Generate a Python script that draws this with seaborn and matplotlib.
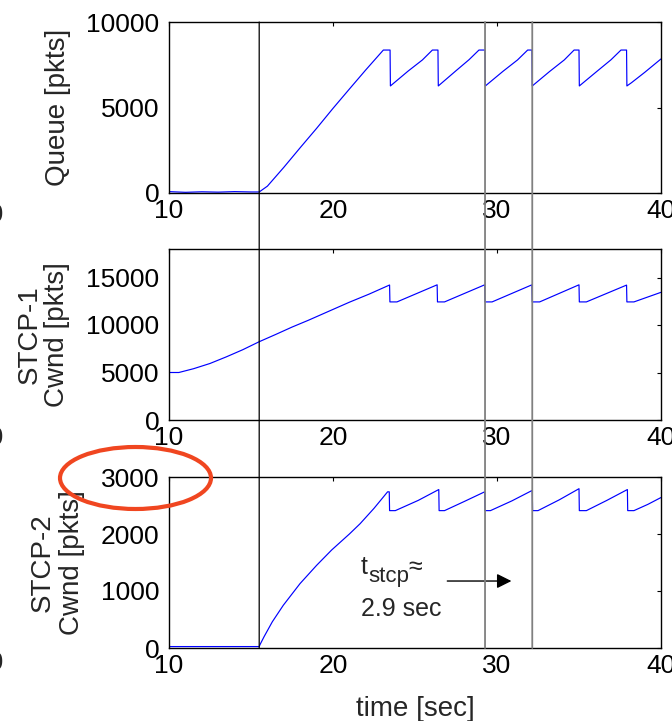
import numpy as np
import pandas as pd
import matplotlib
matplotlib.use("Agg")
import matplotlib.pyplot as plt
import seaborn as sns
from matplotlib.patches import ConnectionPatch, Ellipse

# ---------------- data ----------------
queue_t = [10, 11, 12, 13, 14, 15, 15.5, 16, 17, 18, 19, 20, 21, 22, 23.07, 23.48,
           23.5, 24.58, 25.45, 26.06, 26.4,
           26.42, 27.5, 28.3, 28.9, 29.27,
           29.29, 30.37, 31.25, 31.87, 32.13,
           32.15, 33.2, 34.1, 34.7, 35.0,
           35.02, 36.1, 36.95, 37.56, 37.9,
           37.92, 38.2, 39.0, 40.0]
queue_v = [80, 40, 70, 50, 80, 60, 60, 400, 1500, 2650, 3780, 4950, 6080, 7200, 8360, 8360,
           6260, 7130, 7780, 8360, 8360,
           6260, 7150, 7800, 8360, 8360,
           6260, 7120, 7780, 8360, 8360,
           6260, 7100, 7780, 8360, 8360,
           6260, 7120, 7790, 8360, 8360,
           6260, 6450, 7050, 7840]

stcp1_t = [10, 10.6, 11.5, 12.5, 13.5, 14.5, 15.5, 16.5, 17.5, 18.5, 19.92, 21.0, 22.2, 23.45,
           23.47, 23.9, 26.35,
           26.37, 26.8, 29.25,
           29.27, 29.7, 32.13,
           32.15, 32.6, 35.0,
           35.02, 35.45, 37.9,
           37.92, 38.35, 40.0]
stcp1_v = [5000, 5000, 5400, 5950, 6650, 7400, 8240, 9000, 9780, 10500, 11580, 12400, 13250, 14210,
           12430, 12430, 14230,
           12430, 12430, 14230,
           12430, 12430, 14230,
           12430, 12430, 14230,
           12430, 12430, 14200,
           12430, 12430, 13440]

stcp2_t = [10, 15.5, 15.55, 15.8, 16.3, 16.97, 17.99, 19.0, 19.92, 21.0, 21.65, 22.5, 23.33, 23.43,
           23.45, 23.8, 25.2, 26.45,
           26.47, 26.8, 28.0, 29.25,
           29.27, 29.6, 30.9, 32.15,
           32.17, 32.5, 33.8, 35.0,
           35.02, 35.45, 36.7, 37.95,
           37.97, 38.35, 39.2, 40.0]
stcp2_v = [25, 25, 60, 200, 460, 750, 1130, 1450, 1720, 2000, 2180, 2450, 2740, 2740,
           2410, 2410, 2590, 2780,
           2410, 2410, 2570, 2740,
           2410, 2410, 2580, 2765,
           2410, 2410, 2600, 2795,
           2410, 2410, 2590, 2780,
           2410, 2410, 2520, 2640]

vline_times = [15.5, 29.27, 32.15]
vline_colors = ["#000000", "#808080", "#808080"]

xticks = [10, 20, 30, 40]
yticks_queue = [0, 5000, 10000]
yticks_stcp1 = [0, 5000, 10000, 15000]
yticks_stcp2 = [0, 1000, 2000, 3000]

ylabels = ["Queue [pkts]", "STCP-1\nCwnd [pkts]", "STCP-2\nCwnd [pkts]"]

# ---------------- style ----------------
sns.set_style("white")
plt.rcParams["font.family"] = ["Liberation Sans", "DejaVu Sans"]
plt.rcParams["axes.edgecolor"] = "black"
plt.rcParams["axes.linewidth"] = 1.0

W, H = 672, 721
fig = plt.figure(figsize=(W / 100, H / 100), dpi=100)

def fx(px):
    return px / W

def fy(py):
    return 1 - py / H

left, right = 169, 661
boxes = [(22, 193), (249, 420), (477, 648)]
axes = []
for top, bot in boxes:
    ax = fig.add_axes([fx(left), fy(bot), fx(right) - fx(left), fy(top) - fy(bot)])
    axes.append(ax)
ax1, ax2, ax3 = axes

series = [(queue_t, queue_v, yticks_queue, (0, 10000)),
          (stcp1_t, stcp1_v, yticks_stcp1, (0, 18000)),
          (stcp2_t, stcp2_v, yticks_stcp2, (0, 3000))]

label_x = [-0.2256, -0.255, -0.2266]
label_ls = [1.0, 1.05, 1.15]
for ax, (t, v, yt, ylim), lab, lx, ls in zip(axes, series, ylabels, label_x, label_ls):
    df = pd.DataFrame({"t": t, "v": v})
    sns.lineplot(data=df, x="t", y="v", ax=ax, color="#0000ff", linewidth=0.85,
                 estimator=None, sort=False)
    ax.set_xlim(10, 40)
    ax.set_ylim(*ylim)
    ax.set_xticks(xticks)
    ax.set_yticks(yt)
    ax.set_xticklabels([str(x) for x in xticks])
    ax.set_yticklabels([str(y) for y in yt])
    ax.tick_params(direction="in", length=3, width=0.8, top=True, right=True,
                   labelsize=19, colors="black")
    ax.tick_params(axis="x", pad=4.5)
    ax.tick_params(axis="y", pad=7)
    ax.set_xlabel("")
    ax.set_ylabel(lab, fontsize=20, va="center", ha="center", linespacing=ls)
    ax.yaxis.set_label_coords(lx, 0.5)
    for s in ax.spines.values():
        s.set_visible(True)
        s.set_color("black")
        s.set_linewidth(1.0)

ax3.set_xlabel("time [sec]", fontsize=20, labelpad=13)

# vertical marker lines spanning all three panels
for tv, c in zip(vline_times, vline_colors):
    con = ConnectionPatch(xyA=(tv, 10000), coordsA=ax1.transData,
                          xyB=(tv, 0), coordsB=ax3.transData,
                          color=c, lw=0.9 if c == "#000000" else 1.3, zorder=5)
    fig.add_artist(con)

# annotation in lower panel: t_stcp ≈ 2.9 sec
ax3.text(21.71, 1296, "t", fontsize=18, ha="left", va="baseline")
ax3.text(22.13, 1156, "stcp", fontsize=16, ha="left", va="baseline")
ax3.text(24.57, 1296, "≈", fontsize=18, ha="left", va="baseline")
ax3.text(21.71, 560, "2.9 sec", fontsize=18, ha="left", va="baseline")
ax3.annotate("", xy=(31.05, 1175), xytext=(26.8, 1175),
             arrowprops=dict(arrowstyle="-|>", color="black", lw=1.0, mutation_scale=22))

# red ellipse highlighting the 3000 tick
ell = Ellipse((fx(135.5), fy(478)), width=151 / W, height=62 / H,
              transform=fig.transFigure, fill=False, edgecolor="#f04620", lw=3.0, zorder=10)
fig.add_artist(ell)

# clipped tick labels from the neighbouring panel at the left edge
for yc in (215, 438, 663):
    fig.text(fx(4), fy(yc), "40", ha="right", va="center", fontsize=19)

fig.savefig("out.png", dpi=100)
